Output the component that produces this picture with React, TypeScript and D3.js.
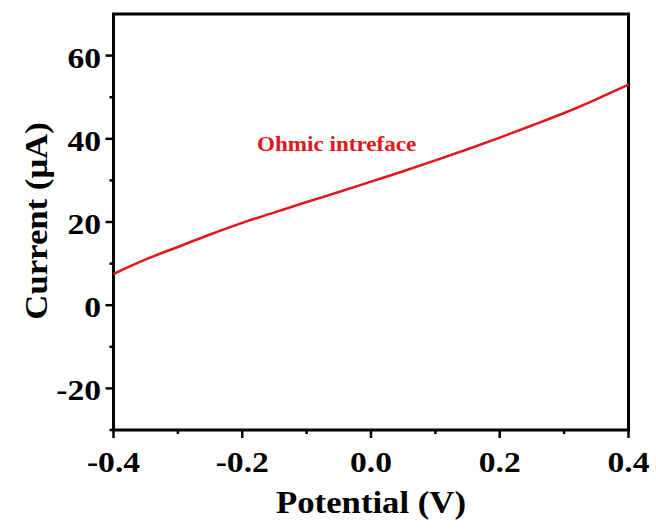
import { useRef, useEffect } from "react";
import * as d3 from "d3";

const potential = [-0.4, -0.35, -0.3, -0.25, -0.2, -0.15, -0.1, -0.05, 0, 0.05, 0.1, 0.15, 0.2, 0.25, 0.3, 0.35, 0.4];
const current = [7.5, 11, 14, 17, 19.8, 22.3, 24.8, 27.2, 29.7, 32.2, 34.8, 37.5, 40.3, 43.2, 46.2, 49.5, 53];
const xTicks = [-0.4, -0.2, 0, 0.2, 0.4];
const xMinor = [-0.3, -0.1, 0.1, 0.3];
const yTicks = [-20, 0, 20, 40, 60];
const yMinor = [-30, -10, 10, 30, 50];
const label = "Ohmic intreface";

export default function App() {
  const ref = useRef<SVGSVGElement>(null);

  useEffect(() => {
    const svg = d3.select(ref.current);
    svg.selectAll("*").remove();

    const left = 113.5, right = 628.5, top = 14, bottom = 430;
    const font = "'Liberation Serif', 'Times New Roman', serif";
    const sx = 1.12; // the text in the picture is a bit wide

    const x = d3.scaleLinear().domain([-0.4, 0.4]).range([left, right]);
    const y = d3.scaleLinear().domain([-30, 70]).range([bottom, top]);

    // Frame
    svg.append("rect")
      .attr("x", left).attr("y", top)
      .attr("width", right - left).attr("height", bottom - top)
      .attr("fill", "none").attr("stroke", "#000").attr("stroke-width", 3);

    // Ticks
    const g = svg.append("g").attr("stroke", "#000").attr("stroke-width", 2.5);
    xTicks.forEach((t) => g.append("line").attr("x1", x(t)).attr("x2", x(t)).attr("y1", bottom).attr("y2", bottom + 8));
    xMinor.forEach((t) => g.append("line").attr("x1", x(t)).attr("x2", x(t)).attr("y1", bottom).attr("y2", bottom + 4));
    yTicks.forEach((t) => g.append("line").attr("y1", y(t)).attr("y2", y(t)).attr("x1", left).attr("x2", left - 8));
    yMinor.forEach((t) => g.append("line").attr("y1", y(t)).attr("y2", y(t)).attr("x1", left).attr("x2", left - 4));

    const fmt = (d: number) => d3.format(".1f")(d).replace("−", "-");

    // Tick labels
    svg.append("g").selectAll("text").data(xTicks).join("text")
      .attr("transform", (d) => `translate(${x(d)}, 472) scale(${sx}, 1)`)
      .attr("text-anchor", "middle")
      .attr("font-family", font).attr("font-weight", "bold").attr("font-size", 30)
      .text(fmt);

    svg.append("g").selectAll("text").data(yTicks).join("text")
      .attr("transform", (d) => `translate(101, ${y(d) + 12}) scale(${sx}, 1)`)
      .attr("text-anchor", "end")
      .attr("font-family", font).attr("font-weight", "bold").attr("font-size", 30)
      .text((d) => String(d));

    // Axis titles
    svg.append("text")
      .attr("transform", `translate(${(left + right) / 2}, 513) scale(${sx}, 1)`)
      .attr("text-anchor", "middle")
      .attr("font-family", font).attr("font-weight", "bold").attr("font-size", 31)
      .text("Potential (V)");

    svg.append("text")
      .attr("transform", `translate(47, 221) rotate(-90) scale(${sx}, 1)`)
      .attr("text-anchor", "middle")
      .attr("font-family", font).attr("font-weight", "bold").attr("font-size", 31)
      .text("Current (μA)");

    // Data
    const line = d3.line<number>()
      .x((_, i) => x(potential[i]))
      .y((d) => y(d))
      .curve(d3.curveMonotoneX);

    svg.append("path")
      .datum(current)
      .attr("d", line)
      .attr("fill", "none")
      .attr("stroke", "#e3161b")
      .attr("stroke-width", 2.5);

    svg.append("text")
      .attr("transform", `translate(257, 151) scale(1.1, 1)`)
      .attr("font-family", font).attr("font-weight", "bold").attr("font-size", 21)
      .attr("fill", "#e3161b")
      .text(label);
  }, []);

  return (
    <svg ref={ref} width={656} height={529} style={{ position: "absolute", left: 0, top: 0 }} />
  );
}
